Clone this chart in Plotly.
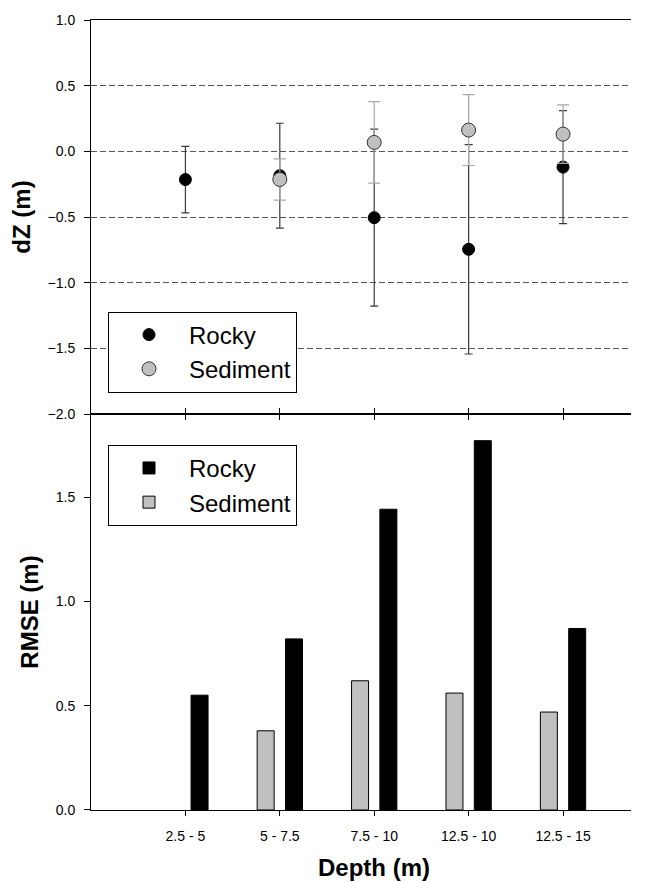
import plotly.graph_objects as go

categories = ["2.5 - 5", "5 - 7.5", "7.5 - 10", "12.5 - 10", "12.5 - 15"]

# Top panel: dZ mean and error
rocky_dz = [-0.215, -0.185, -0.505, -0.746, -0.12]
rocky_dz_err = [0.253, 0.399, 0.674, 0.797, 0.43]
sed_dz = [None, -0.214, 0.068, 0.162, 0.131]
sed_dz_err = [None, 0.157, 0.31, 0.27, 0.222]

# Bottom panel: RMSE
rocky_rmse = [0.551, 0.821, 1.443, 1.772, 0.871]
sed_rmse = [None, 0.380, 0.620, 0.561, 0.470]

FONT = "Liberation Sans, Arial, sans-serif"

fig = go.Figure()

fig.add_trace(go.Scatter(
    x=categories, y=rocky_dz, mode="markers", name="Rocky",
    marker=dict(color="black", size=12, line=dict(color="black", width=1)),
    error_y=dict(type="data", array=rocky_dz_err, color="#3a3a3a", thickness=1.2, width=4),
    xaxis="x", yaxis="y", legend="legend",
))
fig.add_trace(go.Scatter(
    x=categories, y=sed_dz, mode="markers", name="Sediment",
    marker=dict(color="#c0c0c0", size=14, line=dict(color="#333333", width=1)),
    error_y=dict(type="data", array=sed_dz_err, color="#a8a8a8", thickness=1.2, width=6),
    xaxis="x", yaxis="y", legend="legend",
))

fig.add_trace(go.Bar(
    x=categories, y=rocky_rmse, name="Rocky",
    marker=dict(color="black", line=dict(color="black", width=1)),
    width=0.18, offset=0.06,
    xaxis="x2", yaxis="y2", legend="legend2",
))
fig.add_trace(go.Bar(
    x=categories, y=sed_rmse, name="Sediment",
    marker=dict(color="#c0c0c0", line=dict(color="black", width=1)),
    width=0.18, offset=-0.24,
    xaxis="x2", yaxis="y2", legend="legend2",
))

split = 398 / 794
plot_w = 646 - 91 - 15

axis_common = dict(showline=True, linecolor="black", linewidth=1,
                   tickcolor="black", tickfont=dict(family=FONT, size=14, color="black"),
                   zeroline=False)

fig.update_layout(
    width=646, height=882,
    margin=dict(l=91, r=15, t=16, b=72),
    paper_bgcolor="white", plot_bgcolor="white",
    font=dict(family=FONT, color="black"),
    barmode="overlay",
    xaxis=dict(**axis_common, type="category", categoryorder="array", categoryarray=categories,
               range=[-1.0, 4.72], anchor="y", showticklabels=False,
               ticks="outside", ticklen=5, mirror=True, showgrid=False,
               domain=[0, 1]),
    yaxis=dict(**axis_common, domain=[split, 1], range=[-2.0, 1.0], dtick=0.5,
               tickformat=".1f", ticks="outside", ticklen=6, anchor="x",
               showgrid=True, gridcolor="#555555", gridwidth=1, griddash="6px,3px",
               ticklabelstandoff=6,
               title=dict(text="<b>dZ (m)</b>", font=dict(family=FONT, size=24), standoff=10)),
    xaxis2=dict(**axis_common, type="category", categoryorder="array", categoryarray=categories,
                range=[-1.0, 4.72], anchor="y2", ticks="outside", ticklen=5,
                mirror="ticks", showgrid=False, ticklabelstandoff=8, domain=[0, 1]),
    yaxis2=dict(**axis_common, domain=[0, split], range=[0, 1.9], dtick=0.5,
                tickformat=".1f", ticks="outside", ticklen=6, anchor="x2", showgrid=False,
                ticklabelstandoff=6,
                title=dict(text="<b>RMSE (m)</b>", font=dict(family=FONT, size=24), standoff=10)),
    legend=dict(x=(108 - 91) / plot_w, y=(810 - 309) / 794, xanchor="left", yanchor="top",
                bgcolor="white", bordercolor="black", borderwidth=1,
                font=dict(family=FONT, size=24, color="black"), itemwidth=70),
    legend2=dict(x=(108 - 91) / plot_w, y=(810 - 443) / 794, xanchor="left", yanchor="top",
                 bgcolor="white", bordercolor="black", borderwidth=1,
                 font=dict(family=FONT, size=24, color="black"), itemwidth=70),
    annotations=[dict(text="<b>Depth (m)</b>", x=categories[2], xref="x2", y=0, yref="y2 domain",
                      yanchor="middle", yshift=-57, showarrow=False,
                      font=dict(family=FONT, size=24, color="black"))],
)

fig.write_html(
    "out.html",
    config={"displayModeBar": False},
    post_script=("document.body.style.margin='0';"
                 "document.body.style.overflow='hidden';"
                 "document.documentElement.style.overflow='hidden';"),
)
